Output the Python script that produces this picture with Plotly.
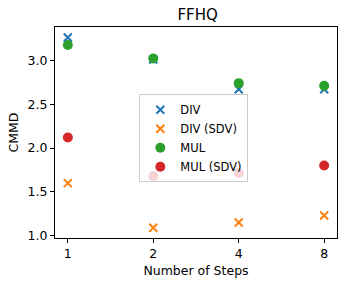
import plotly.graph_objects as go

steps = ["1", "2", "4", "8"]
div = [3.26, 3.01, 2.67, 2.67]
div_sdv = [1.60, 1.09, 1.15, 1.23]
mul = [3.175, 3.02, 2.74, 2.71]
mul_sdv = [2.12, 1.68, 1.715, 1.80]

blue, orange, green, red = "#1f77b4", "#ff7f0e", "#2ca02c", "#d62728"

fig = go.Figure()
def xs(name, vals, color):
    fig.add_trace(go.Scatter(x=steps, y=vals, mode="markers", name=name,
        marker=dict(symbol="x-thin", size=8, color=color, line=dict(width=2, color=color))))
def dots(name, vals, color):
    fig.add_trace(go.Scatter(x=steps, y=vals, mode="markers", name=name,
        marker=dict(symbol="circle", size=10, color=color, line=dict(width=0))))

xs("DIV", div, blue)
xs("DIV (SDV)", div_sdv, orange)
dots("MUL", mul, green)
dots("MUL (SDV)", mul_sdv, red)

axis_common = dict(showline=True, linecolor="black", linewidth=1, mirror=True,
                   ticks="outside", ticklen=4, tickcolor="black", showgrid=False,
                   zeroline=False, automargin=False,
                   tickfont=dict(size=12.5, color="black"))
fig.update_layout(
    width=346, height=285,
    margin=dict(l=55, r=9, t=27, b=47),
    paper_bgcolor="white", plot_bgcolor="white",
    font=dict(family="DejaVu Sans", color="black", size=12.5),
    title=dict(text="FFHQ", x=0.571, xanchor="center", y=0.95, yanchor="middle",
               font=dict(size=15, color="black")),
    xaxis=dict(type="category", range=[-0.15, 3.15],
               title=dict(text="Number of Steps", font=dict(size=12.5), standoff=6), **axis_common),
    yaxis=dict(range=[0.974, 3.38], tickvals=[1.0, 1.5, 2.0, 2.5, 3.0], tickformat=".1f",
               title=dict(text="CMMD", font=dict(size=12.5), standoff=6), **axis_common),
    legend=dict(x=0.299, y=0.681, xanchor="left", yanchor="top",
                bgcolor="rgba(255,255,255,0.8)", bordercolor="#cccccc", borderwidth=1,
                font=dict(size=11.5), tracegroupgap=0, itemwidth=30),
    showlegend=True,
)
fig.write_html("out.html", config={"displayModeBar": False},
               post_script="document.body.style.margin='0';")
